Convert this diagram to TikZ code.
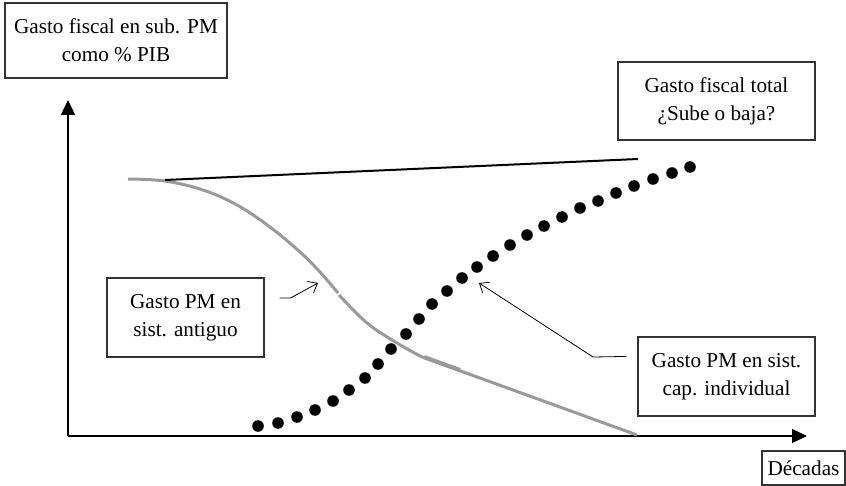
\documentclass[tikz,border=0pt]{standalone}
\usepackage{fontspec}
\setmainfont{Liberation Serif}
\usetikzlibrary{calc,arrows.meta}

\begin{document}
\begin{tikzpicture}[x=0.5pt,y=-0.5pt,
    box/.style={draw=black!80, line width=0.55pt, align=center, inner sep=2pt,
      font=\fontsize{10.6}{14}\selectfont},
    callout/.style={draw=black, line width=0.4pt, -{Straight Barb[length=4pt,width=6.5pt]}},
    axis/.style={draw=black, line width=0.6pt, -{Triangle[length=7.5pt,width=7pt]}},
    oldcurve/.style={draw=black!40, line width=1.5pt}]
  \useasboundingbox (0,0) rectangle (846,486);

  %% Axes
  \coordinate (O) at (68,436);
  \coordinate (YT) at (68,100);
  \coordinate (XT) at (807,436);
  \draw[axis] (O) -- (YT);
  \draw[axis] (O) -- (XT);

  %% Label boxes
  \node[box, minimum width=111pt, minimum height=37.5pt] (ylab) at (116,40.5)
    {Gasto fiscal en sub. PM\\como \% PIB};
  \node[box, minimum width=98.5pt, minimum height=39pt] (total) at (716.5,101)
    {Gasto fiscal total\\¿Sube o baja?};
  \node[box, minimum width=78.5pt, minimum height=39.5pt] (antiguo) at (185.5,317.5)
    {Gasto PM en\\sist. antiguo};
  \node[box, minimum width=88.5pt, minimum height=39.5pt] (capind) at (726.5,376.5)
    {Gasto PM en sist.\\cap. individual};
  \node[box, minimum width=41.5pt, minimum height=17pt] (decadas) at (803.5,468)
    {Décadas};

  %% Spending in the old system
  \draw[oldcurve] plot[smooth, tension=0.6] coordinates
    {(128,179) (165,181) (203,190) (237,205) (270,227) (300,252) (320,272) (338,293)};
  \draw[oldcurve] plot[smooth, tension=0.6] coordinates
    {(339,295) (367,323) (397,343) (422,357)};
  \draw[oldcurve] (422,357) -- (637,435);
  \draw[black!40, line width=2pt] (424,357) -- (460,370);

  %% Total spending
  \coordinate (T0) at (165,180);
  \coordinate (T1) at (638,159);
  \draw[line width=1pt] (T0) -- (T1);

  %% Spending in the individual capitalisation system
  \foreach \x/\y in {258/426, 278/423, 297/417, 315/410, 333/401, 349/390,
      365/378, 378/364, 391/349, 406/334, 419/319, 432/304, 447/291,
      462/278, 477/267, 493/256, 510/245, 527/235, 544/226, 562/217,
      580/208, 598/201, 616/193, 634/186, 653/179, 672/173, 690/167}
  {
    \fill (\x,\y) circle[radius=2.9pt];
  }

  %% Callout arrows
  \coordinate (A0) at ($(antiguo.east)+(15,-19.5)$);
  \coordinate (A1) at ($(A0)+(11,0)$);
  \coordinate (A2) at (318,283);
  \draw[callout] (A0) -- (A1) -- (A2);
  \coordinate (C0) at ($(capind.north west)+(-11,20)$);
  \coordinate (C1) at (593,357);
  \coordinate (C2) at (479,283);
  \draw[callout] (C0) -- (C1) -- (C2);
\end{tikzpicture}
\end{document}
